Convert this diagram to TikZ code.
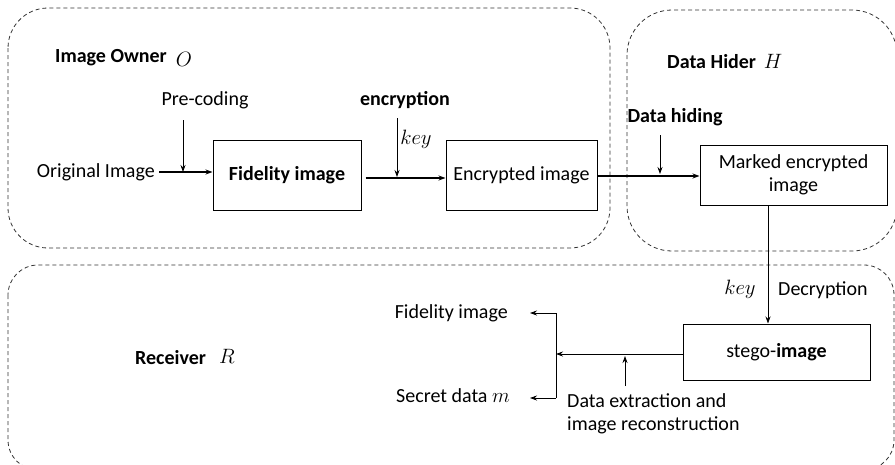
\documentclass[tikz,border=0pt]{standalone}
\usepackage{fontspec}
\setmainfont{Carlito}
\usetikzlibrary{arrows.meta}
\begin{document}
\begin{tikzpicture}[x=1pt,y=-1pt,
  every node/.style={font=\fontsize{20}{23.5}\selectfont, inner sep=0pt},
  sym/.style={font=\fontsize{22}{24}\selectfont},
  region/.style={draw=black!80, dash pattern=on 4pt off 3pt, line width=0.8pt},
  stage/.style={draw, line width=1pt, align=center},
  flow/.style={-{Stealth[length=7pt,width=5pt]}, line width=1.1pt},
  thinflow/.style={-{Stealth[length=7pt,width=5pt]}, line width=0.8pt}]
\useasboundingbox (0,0) rectangle (895,464);

% participant regions
\draw[region, rounded corners=40pt] (8,8) rectangle (610,248);
\draw[region, rounded corners=45pt] (627,10) rectangle (897,251);
\draw[region, rounded corners=30pt] (8,265) rectangle (894,470);

% region titles
\node[anchor=west] (ownerlbl) at (55,58) {\textbf{Image Owner}};
\node[sym] (ownersym) at (184,59) {$O$};
\node[anchor=west] (hiderlbl) at (667,62) {\textbf{Data Hider}};
\node[sym] (hidersym) at (773,61) {$H$};
\node[anchor=west] (recvlbl) at (135,358) {\textbf{Receiver}};
\node[sym] (recvsym) at (227,356) {$R$};

% image owner stages
\node[anchor=east] (orig) at (155,172) {Original Image};
\node[stage, minimum width=148pt, minimum height=70pt] (fid) at (287,175) {\textbf{Fidelity image}};
\node[stage, minimum width=151pt, minimum height=70pt] (enc) at (521.5,175) {Encrypted image};
\node (precode) at (205,100) {Pre-coding};
\node (encr) at (405,100) {\textbf{encryption}};
\node[sym] (key1) at (416,139) {$key$};

\coordinate (pcin) at (183,172);
\coordinate (encin) at (397,177);
\draw[flow] (orig.east |- 0,172) ++(4,0) -- (fid.west |- 0,172);
\draw[thinflow] (183,120) -- (pcin);
\draw[flow] (fid.east |- 0,178) ++(4,0) -- (enc.west |- 0,178);
\draw[thinflow] (397,118) -- (encin);

% data hider stage
\node[stage, minimum width=187pt, minimum height=60pt] (mark) at (793.5,175) {Marked encrypted\\image};
\node (hiding) at (675,117) {\textbf{Data hiding}};
\coordinate (hidein) at (660,174);
\draw[flow] (enc.east |- 0,176) -- (mark.west |- 0,176);
\draw[thinflow] (660,135) -- (hidein);

% receiver stages
\node[stage, minimum width=187pt, minimum height=56pt] (stego) at (776.5,352) {stego-\textbf{image}};
\draw[thinflow] (mark.south -| 768,0) -- (stego.north -| 768,0);
\node[sym] (key2) at (740,289) {$key$};
\node[anchor=west] (decr) at (778,290) {Decryption};

\coordinate (branch) at (556,354);
\coordinate (outtop) at (530,313);
\coordinate (outbot) at (530,398);
\draw[thinflow] (stego.west |- branch) -- (branch);
\draw[thinflow] (556,313) -- (outtop);
\draw[thinflow] (556,398) -- (outbot);
\draw[line width=0.8pt] (556,313) -- (556,398);
\node[anchor=east] (fidout) at (508,313) {Fidelity image};
\node[anchor=east] (secret) at (510,396) {Secret data \fontsize{22}{24}\selectfont$m$};

\coordinate (extr) at (625,356);
\draw[thinflow] (625,386) -- (extr);
\node[anchor=north west, align=left] (extrlbl) at (567,393) {Data extraction and\\image reconstruction};
\end{tikzpicture}
\end{document}
